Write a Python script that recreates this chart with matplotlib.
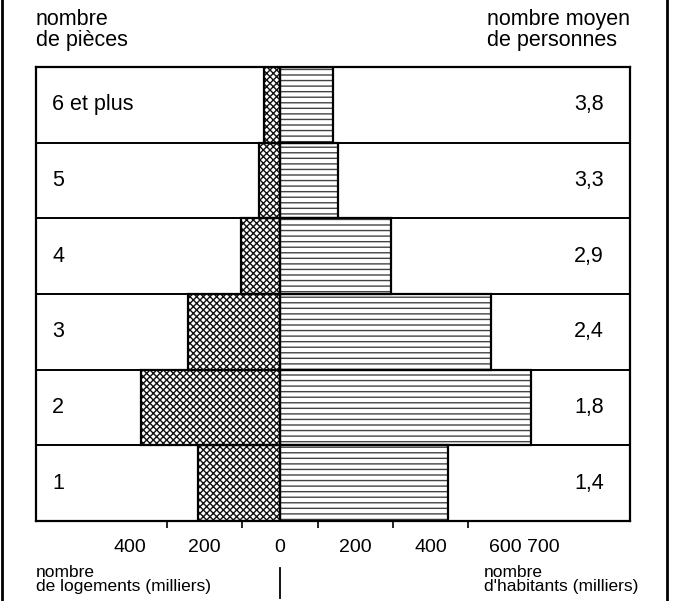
import matplotlib
matplotlib.use("Agg")
import matplotlib.pyplot as plt
from matplotlib.lines import Line2D

plt.rcParams['font.family'] = ['Liberation Sans', 'DejaVu Sans']
plt.rcParams['hatch.linewidth'] = 1.0

# rooms per dwelling, bottom to top
pieces = ["1", "2", "3", "4", "5", "6 et plus"]
logements = [218, 371, 245, 105, 56, 43]      # thousands
habitants = [446, 668, 562, 295, 153, 140]    # thousands
personnes = [1.4, 1.8, 2.4, 2.9, 3.3, 3.8]

tick_vals = [-400, -200, 0, 200, 400, 600, 700]
tick_labels = ["400", "200", "0", "200", "400", "600", "700"]

W, H = 674, 601
fig = plt.figure(figsize=(W / 100, H / 100), dpi=100)

# box region in pixels
bx0, bx1, by0, by1 = 36, 630, 67, 521
x0_px, px_per_unit = 280, 0.376
ax = fig.add_axes([bx0 / W, 1 - by1 / H, (bx1 - bx0) / W, (by1 - by0) / H])
ax.set_xlim((bx0 - x0_px) / px_per_unit, (bx1 - x0_px) / px_per_unit)
ax.set_ylim(-0.5, len(pieces) - 0.5)

y = range(len(pieces))
left = [-v for v in logements]
# fill patterns first, black outlines on top
ax.barh(y, left, height=1, color="white", edgecolor="#111111",
        hatch="xxxxx", linewidth=0)
ax.barh(y, habitants, height=1, color="white", edgecolor="#444444",
        hatch="---", linewidth=0)
ax.barh(y, left, height=1, fill=False, edgecolor="black", linewidth=1.6)
ax.barh(y, habitants, height=1, fill=False, edgecolor="black", linewidth=1.6)

for b in [i - 0.5 for i in range(1, len(pieces))]:
    ax.axhline(b, color="black", lw=1.4, zorder=1)

fs = 15.5
for i, (lab, p) in enumerate(zip(pieces, personnes)):
    ax.text(0.027, i, lab, transform=ax.get_yaxis_transform(),
            ha="left", va="center", fontsize=fs)
    ax.text(0.956, i, f"{p:.1f}".replace(".", ","), transform=ax.get_yaxis_transform(),
            ha="right", va="center", fontsize=fs)

for s in ax.spines.values():
    s.set_linewidth(1.6)

ax.set_yticks([])
ax.set_xticks(tick_vals)
ax.set_xticklabels(tick_labels, fontsize=14)
ax.set_xticks(range(-400, 701, 100), minor=True)
ax.tick_params(axis="x", which="both", direction="out", length=5, width=1.2, pad=13)
ax.tick_params(axis="x", which="major", length=0)

# headers
fig.text(bx0 / W, 1 - 9 / H, "nombre\nde pièces", ha="left", va="top",
         fontsize=fs, linespacing=1.0)
fig.text(bx1 / W, 1 - 9 / H, "nombre moyen\nde personnes", ha="right", va="top",
         multialignment="left", fontsize=fs, linespacing=1.0)

# footers
fs_small = 12.5
fig.text(bx0 / W, 1 - 565 / H, "nombre\nde logements (milliers)", ha="left", va="top",
         fontsize=fs_small, linespacing=0.95)
fig.text((bx1 + 8) / W, 1 - 565 / H, "nombre\nd'habitants (milliers)", ha="right", va="top",
         multialignment="left", fontsize=fs_small, linespacing=0.95)
fig.add_artist(Line2D([x0_px / W] * 2, [1 - 568 / H, 1 - 598 / H], color="black", lw=1.3))

# outer frame
for fx in (2, 667):
    fig.add_artist(Line2D([fx / W] * 2, [0, 1], color="black", lw=2))

fig.savefig("out.png", dpi=100)
